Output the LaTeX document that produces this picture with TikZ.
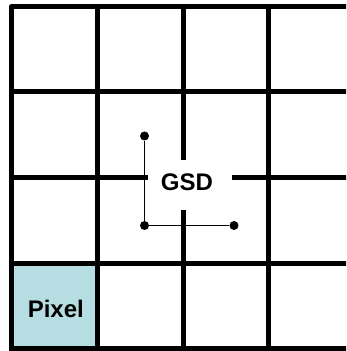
\documentclass[tikz,border=0pt]{standalone}
\usepackage{fontspec}
\setmainfont{Liberation Sans}
\definecolor{pixelfill}{RGB}{182,221,226}
\begin{document}
\begin{tikzpicture}[x=1pt,y=1pt,
  gridline/.style={line width=5pt,line join=round},
  measure/.style={line width=1.5pt},
  dot/.style={circle,fill=black,inner sep=0pt,minimum size=9pt},
  lbl/.style={font=\bfseries\fontsize{24}{28}\selectfont,anchor=base,inner sep=0pt}]
\useasboundingbox (0,0) rectangle (346,351);
% highlighted pixel
\fill[pixelfill] (11.5,2) rectangle (97,87.5);
% grid, clipped at the right and bottom edges
\begin{scope}
\clip (0,0) rectangle (346,351);
\draw[gridline] (350,344.5) -- (11.5,344.5) -- (11.5,-5);
\foreach \y in {259,87.5,2} \draw[gridline] (11.5,\y) -- (350,\y);
\foreach \x in {97,268.5} \draw[gridline] (\x,344.5) -- (\x,-5);
% middle lines broken around the label
\draw[gridline] (11.5,173) -- (148,173);
\draw[gridline] (232,173) -- (350,173);
\draw[gridline] (183,344.5) -- (183,191);
\draw[gridline] (183,141) -- (183,-5);
\end{scope}
% ground sample distance marker
\node[dot] (top) at (144.5,215) {};
\node[dot] (corner) at (144.5,125.5) {};
\node[dot] (right) at (234,125.5) {};
\draw[measure] (top) -- (corner) -- (right);
\node[lbl] (gsd) at (187,160.3) {GSD};
\node[lbl] (pixel) at (55.8,33.3) {Pixel};
\end{tikzpicture}
\end{document}
